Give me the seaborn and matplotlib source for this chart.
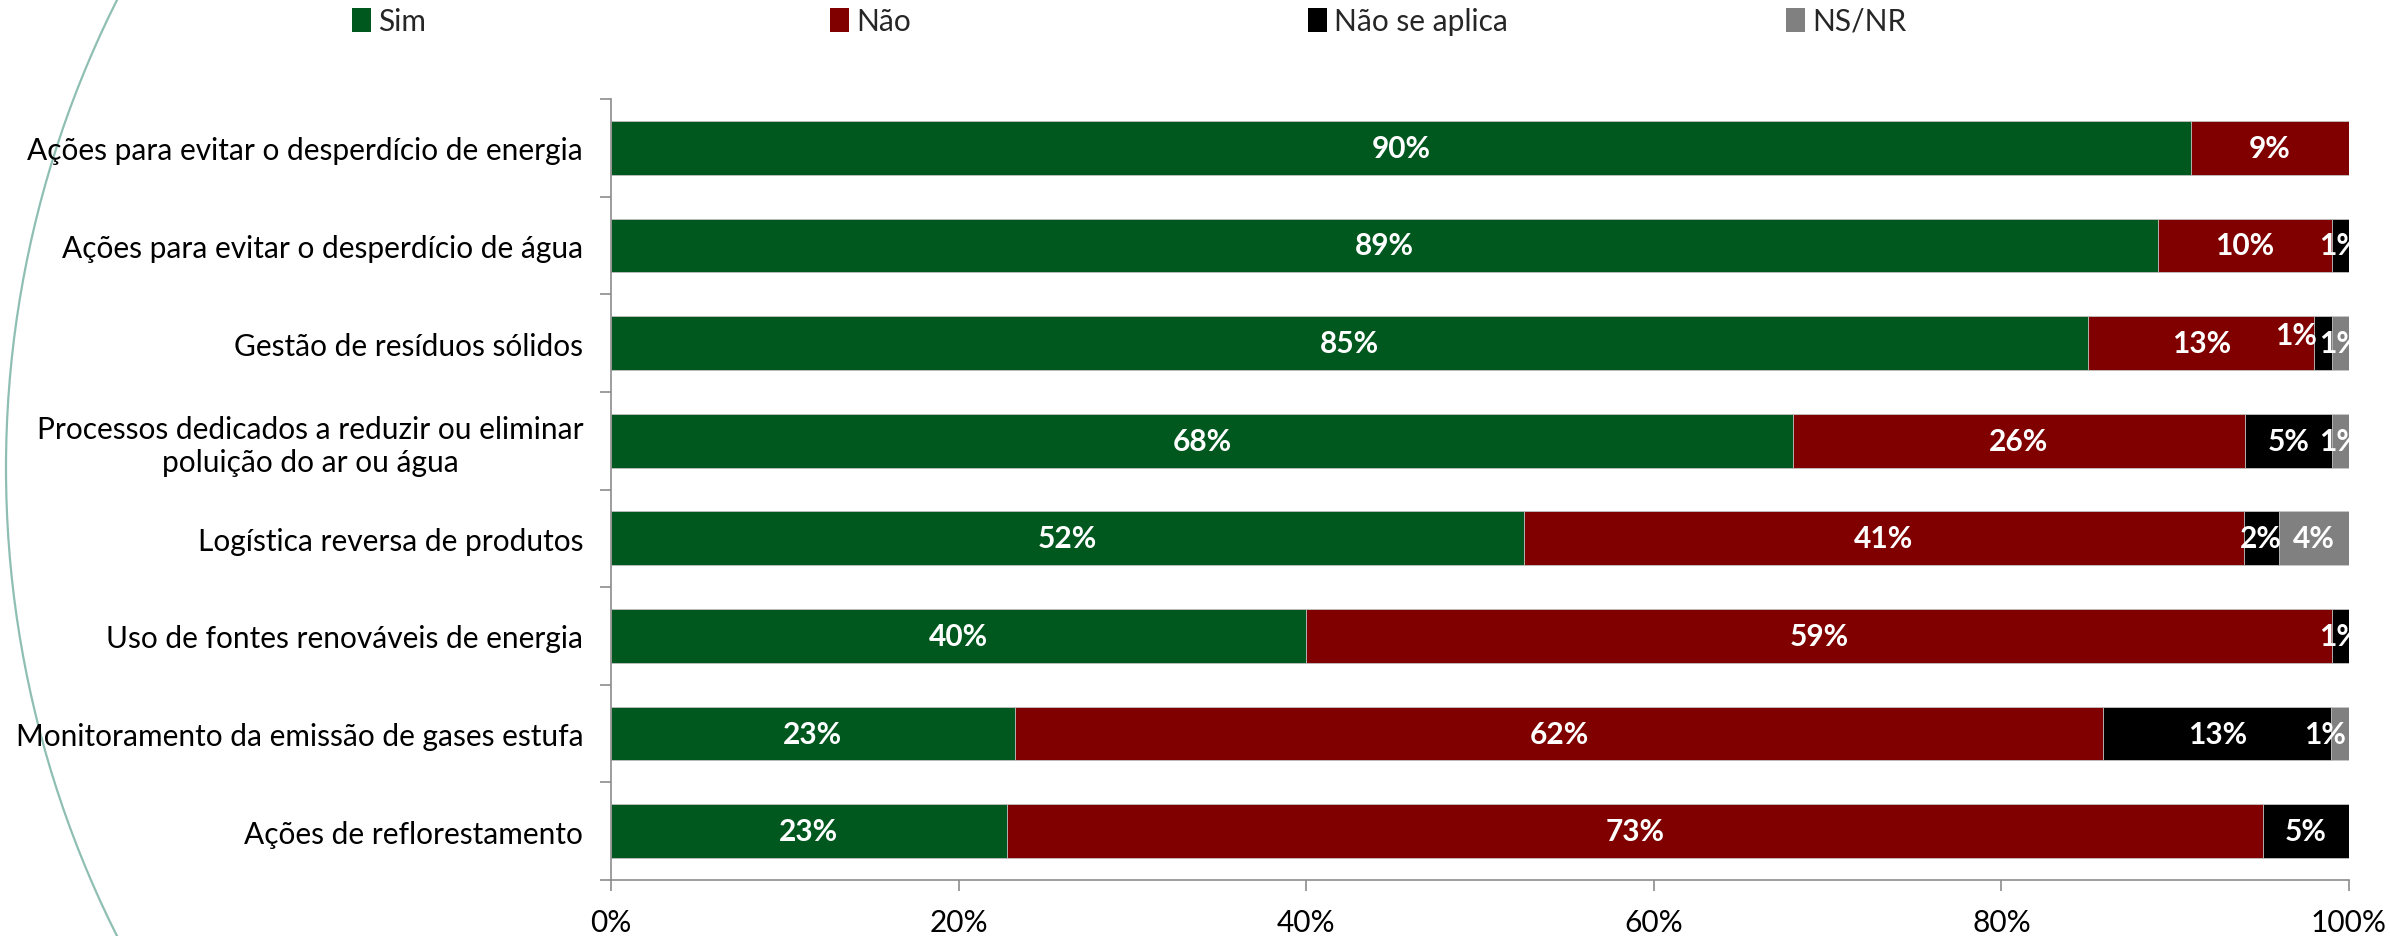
import numpy as np
import pandas as pd
import matplotlib
matplotlib.use("Agg")
import matplotlib.pyplot as plt
import seaborn as sns
from matplotlib.patches import Arc, Patch
from matplotlib.transforms import IdentityTransform
from matplotlib.ticker import FixedLocator, PercentFormatter

# ---- data ----
categories = [
    "Ações para evitar o desperdício de energia",
    "Ações para evitar o desperdício de água",
    "Gestão de resíduos sólidos",
    "Processos dedicados a reduzir ou eliminar\npoluição do ar ou água",
    "Logística reversa de produtos",
    "Uso de fontes renováveis de energia",
    "Monitoramento da emissão de gases estufa",
    "Ações de reflorestamento",
]
series_names = ["Sim", "Não", "Não se aplica", "NS/NR"]
sim = [90, 89, 85, 68, 52, 40, 23, 23]
nao = [9, 10, 13, 26, 41, 59, 62, 73]
nao_se_aplica = [0, 1, 1, 5, 2, 1, 13, 5]
ns_nr = [0, 0, 1, 1, 4, 0, 1, 0]
x_ticks = [0, 0.2, 0.4, 0.6, 0.8, 1.0]

# ---- styling ----
colors = ["#00581F", "#800000", "#000000", "#808080"]
FONT = "Lato"
FS = 21.5
label_nudge_px = {(2, 2): (-27, 8), (6, 3): (-15, 0)}

sns.set_theme(style="white")
plt.rcParams["font.family"] = [FONT, "DejaVu Sans"]

W, H = 2390, 937
fig = plt.figure(figsize=(W / 100, H / 100), dpi=100)
ax = fig.add_axes([611 / W, 1 - 881 / H, (2349 - 611) / W, (881 - 100) / H])

vals = np.array([sim, nao, nao_se_aplica, ns_nr], dtype=float)
totals = vals.sum(axis=0)
shares = vals / totals
cums = np.cumsum(shares, axis=0)

# draw from the rightmost cumulative series to the first so each segment shows
for i in range(len(series_names) - 1, -1, -1):
    df = pd.DataFrame({"cat": categories, "x": cums[i]})
    sns.barplot(data=df, x="x", y="cat", orient="h", color=colors[i],
                saturation=1, width=0.55, ax=ax, edgecolor="#c8c8c8",
                linewidth=0.6)

# labels
for i in range(len(series_names)):
    for j in range(len(categories)):
        v = vals[i, j]
        if v <= 0:
            continue
        xc = cums[i, j] - shares[i, j] / 2
        dx, dy = label_nudge_px.get((j, i), (0, 0))
        ax.annotate(f"{int(v)}%", (xc, j), xytext=(dx * 0.72, dy * 0.72),
                    textcoords="offset points", ha="center", va="center",
                    color="white", fontsize=FS, fontweight="bold",
                    fontfamily=[FONT, "DejaVu Sans"], annotation_clip=False,
                    clip_on=True)

ax.set_xlim(0, 1)
ax.set_ylim(len(categories) - 0.5, -0.5)
ax.set_xlabel("")
ax.set_ylabel("")
ax.xaxis.set_major_locator(FixedLocator(x_ticks))
ax.xaxis.set_major_formatter(PercentFormatter(1.0, decimals=0))
ax.tick_params(axis="x", which="major", length=8, width=1.2, color="#8c8c8c",
               labelsize=FS, labelcolor="black", pad=12, direction="out",
               bottom=True)
ax.tick_params(axis="y", which="major", length=0, labelsize=FS,
               labelcolor="black", pad=20)
ax.yaxis.set_minor_locator(FixedLocator(np.arange(-0.5, len(categories), 1)))
ax.tick_params(axis="y", which="minor", length=8, width=1.2, color="#8c8c8c",
               direction="out", left=True)
for lbl in ax.get_yticklabels():
    lbl.set_multialignment("center")
for s in ["top", "right"]:
    ax.spines[s].set_visible(False)
for s in ["left", "bottom"]:
    ax.spines[s].set_color("#8c8c8c")
    ax.spines[s].set_linewidth(1.2)
ax.grid(False)

# legend: four separate entries evenly spread
leg_x = [352, 830, 1308, 1786]
for k, name in enumerate(series_names):
    fig.legend(handles=[Patch(facecolor=colors[k], edgecolor="none")],
               labels=[name], loc="center left",
               bbox_to_anchor=(leg_x[k] / W, 1 - 22 / H), frameon=False,
               fontsize=FS, handlelength=0.62, handleheight=0.85,
               handletextpad=0.25, borderpad=0, borderaxespad=0)

# decorative arc from the slide template (pixel coordinates)
R = 1042
fig.add_artist(Arc((1048, H - 469), 2 * R, 2 * R, theta1=145, theta2=215,
                   transform=IdentityTransform(), edgecolor="#8fbfb3",
                   linewidth=1.6, zorder=-5))

fig.savefig("out.png", dpi=100)
